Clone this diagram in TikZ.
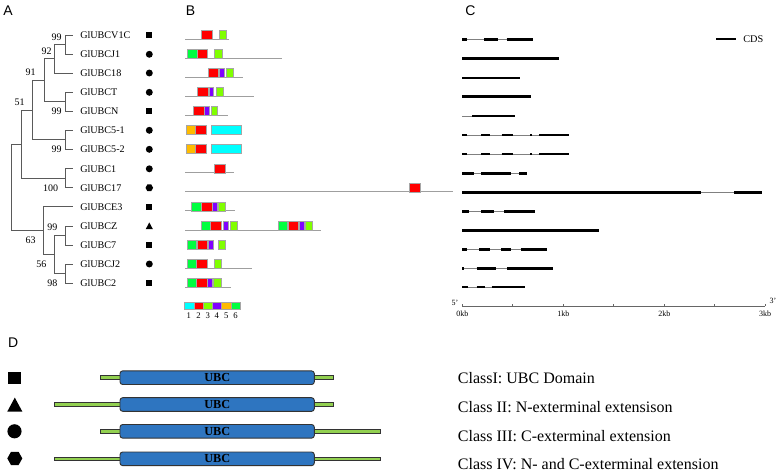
\documentclass[tikz,border=0pt]{standalone}
\usepackage{fontspec}
\setmainfont{Liberation Serif}
\setsansfont{Liberation Sans}
\definecolor{cRed}{RGB}{255,0,0}
\definecolor{cLime}{RGB}{128,255,0}
\definecolor{cGreen}{RGB}{0,255,64}
\definecolor{cPurple}{RGB}{128,0,255}
\definecolor{cOrange}{RGB}{255,187,0}
\definecolor{cCyan}{RGB}{0,255,255}
\definecolor{ubcblue}{RGB}{46,117,192}
\definecolor{extgreen}{RGB}{146,208,80}
\definecolor{treegray}{RGB}{90,90,90}
\newcommand\bx[4]{\filldraw[dom, fill=#1] (#2,#4-5) rectangle (#3,#4+4);}
\newcommand\ex[3]{\draw[exon] (#1,#3) -- (#2,#3);}
\newcommand\msq[2]{\fill (#1-3,#2-3) rectangle (#1+3,#2+3);}
\newcommand\mci[2]{\fill (#1,#2) circle[radius=2.6pt];}
\newcommand\mtr[2]{\fill (#1-3.6,#2+3.2) -- (#1+3.6,#2+3.2) -- (#1,#2-3.6) -- cycle;}
\newcommand\mhx[2]{\fill (#1-3.8,#2) -- (#1-1.9,#2-3.4) -- (#1+1.9,#2-3.4) -- (#1+3.8,#2) -- (#1+1.9,#2+3.4) -- (#1-1.9,#2+3.4) -- cycle;}
\begin{document}
\begin{tikzpicture}[x=0.75pt,y=-0.75pt,
  tree/.style={draw=treegray,line width=0.6pt},
  leaf/.style={font=\fontsize{7.6}{9}\selectfont, anchor=west, inner sep=0},
  boot/.style={font=\fontsize{7.5}{9}\selectfont, inner sep=0},
  dom/.style={draw=gray!70, line width=0.3pt},
  protline/.style={draw=gray!75, line width=0.7pt},
  intron/.style={draw=gray, line width=0.6pt},
  exon/.style={draw=black, line width=2.2pt},
  panel/.style={font=\fontsize{10.5}{12}\sffamily\selectfont, inner sep=0},
  ubc/.style={draw=black!80, fill=ubcblue, line width=0.7pt, rounded corners=2pt},
  ext/.style={draw=black!80, fill=extgreen, line width=0.5pt},
  cls/.style={font=\fontsize{12}{14}\selectfont, anchor=base west, inner sep=0},
  small/.style={font=\fontsize{6}{7}\selectfont, inner sep=0}]
\useasboundingbox (0,0) rectangle (777,472);

% panel letters
\node[panel] (pA) at (8,10.8) {A};
\node[panel] (pB) at (190.5,10.8) {B};
\node[panel] (pC) at (470.5,10.8) {C};
\node[panel] (pD) at (13.3,342.5) {D};

% ---------- A: tree ----------
\draw[tree] (72.7,35) -| (65.3,54.3) -- (72.7,54.3);
\draw[tree] (65.3,44.65) -| (54.3,73) -- (72.7,73);
\draw[tree] (72.7,92.3) -| (65.3,111.2) -- (72.7,111.2);
\draw[tree] (54.3,58.8) -| (44,101.75) -- (65.3,101.75);
\draw[tree] (72.7,130.3) -| (65.3,149.3) -- (72.7,149.3);
\draw[tree] (44,80.3) -| (32.3,139.8) -- (65.3,139.8);
\draw[tree] (72.7,168.8) -| (65.3,187.8) -- (72.7,187.8);
\draw[tree] (32.3,110.05) -| (21.3,178.3) -- (65.3,178.3);
\draw[tree] (72.7,226) -| (65.3,245) -- (72.7,245);
\draw[tree] (72.7,264) -| (65.3,283) -- (72.7,283);
\draw[tree] (65.3,235.5) -| (54.3,273.5) -- (65.3,273.5);
\draw[tree] (72.7,206.8) -| (43.3,254.5) -- (54.3,254.5);
\draw[tree] (21.3,144.2) -| (11,230.65) -- (43.3,230.65);

\node[boot] (b1) at (56.7,37) {99};
\node[boot] (b2) at (46.7,51.7) {92};
\node[boot] (b3) at (30.7,72.7) {91};
\node[boot] (b4) at (56.7,111.2) {99};
\node[boot] (b5) at (19.5,102.7) {51};
\node[boot] (b6) at (56.7,149.3) {99};
\node[boot] (b7) at (50.7,187.8) {100};
\node[boot] (b8) at (52.3,227.7) {99};
\node[boot] (b9) at (30.5,240) {63};
\node[boot] (b10) at (41.3,264.3) {56};
\node[boot] (b11) at (52.3,283) {98};

\node[leaf] (l0) at (80,35) {GlUBCV1C};
\node[leaf] (l1) at (80,54.3) {GlUBCJ1};
\node[leaf] (l2) at (80,73) {GlUBC18};
\node[leaf] (l3) at (80,92.3) {GlUBCT};
\node[leaf] (l4) at (80,111.2) {GlUBCN};
\node[leaf] (l5) at (80,130.3) {GlUBC5-1};
\node[leaf] (l6) at (80,149.3) {GlUBC5-2};
\node[leaf] (l7) at (80,168.8) {GlUBC1};
\node[leaf] (l8) at (80,187.8) {GlUBC17};
\node[leaf] (l9) at (80,206.8) {GlUBCE3};
\node[leaf] (l10) at (80,226) {GlUBCZ};
\node[leaf] (l11) at (80,245) {GlUBC7};
\node[leaf] (l12) at (80,264) {GlUBCJ2};
\node[leaf] (l13) at (80,283) {GlUBC2};

\msq{149.3}{35} \mci{149.3}{54.3} \mci{149.3}{73} \mci{149.3}{92.3}
\msq{149.3}{111.2} \mci{149.3}{130.3} \mci{149.3}{149.3} \mci{149.3}{168.8}
\mhx{149.3}{187.8} \msq{149.3}{206.8} \mtr{149.3}{226} \msq{149.3}{245}
\mci{149.3}{264} \msq{149.3}{283}

% ---------- B: domains ----------
\draw[protline] (185,39) -- (229,39);
\bx{cRed}{201}{211.7}{35} \bx{cLime}{219.3}{226}{35}
\draw[protline] (185,58.3) -- (281.7,58.3);
\bx{cGreen}{187.3}{196.7}{54.3} \bx{cRed}{196.7}{207.3}{54.3} \bx{cLime}{214.3}{221.7}{54.3}
\draw[protline] (185,77) -- (242.7,77);
\bx{cRed}{207.7}{218.3}{73} \bx{cPurple}{219.3}{224.3}{73} \bx{cLime}{226}{232.7}{73}
\draw[protline] (185,96.3) -- (253.7,96.3);
\bx{cRed}{197}{207.7}{92.3} \bx{cPurple}{208.7}{213.3}{92.3} \bx{cLime}{216}{222.7}{92.3}
\draw[protline] (185,115.2) -- (228.3,115.2);
\bx{cRed}{193}{204}{111.2} \bx{cPurple}{204.3}{209.3}{111.2} \bx{cLime}{210.7}{217.3}{111.2}
\bx{cOrange}{186}{195}{130.3} \bx{cRed}{195}{205.7}{130.3} \bx{cCyan}{211}{240.7}{130.3}
\bx{cOrange}{186}{195}{149.3} \bx{cRed}{195}{205.7}{149.3} \bx{cCyan}{211}{240.7}{149.3}
\draw[protline] (185,172.8) -- (234,172.8);
\bx{cRed}{214.3}{225}{168.8}
\draw[protline] (185,191.8) -- (453.3,191.8);
\bx{cRed}{409.3}{420}{187.8}
\draw[protline] (185,210.8) -- (235,210.8);
\bx{cGreen}{191}{201}{206.8} \bx{cRed}{201}{211.7}{206.8} \bx{cPurple}{211.7}{217}{206.8} \bx{cLime}{217.7}{225}{206.8}
\draw[protline] (185,230) -- (321,230);
\bx{cGreen}{201}{210}{226} \bx{cRed}{210}{221}{226} \bx{cPurple}{222.7}{227.7}{226} \bx{cLime}{230.3}{237.3}{226}
\bx{cGreen}{277.7}{287}{226} \bx{cRed}{287.7}{298.3}{226} \bx{cPurple}{298.7}{303.7}{226} \bx{cLime}{305}{311.7}{226}
\bx{cGreen}{187.3}{196}{245} \bx{cRed}{196.7}{207.3}{245} \bx{cPurple}{208.3}{213}{245} \bx{cLime}{218.3}{225}{245}
\draw[protline] (185,268) -- (251.7,268);
\bx{cGreen}{187.3}{196}{264} \bx{cRed}{196}{206.7}{264} \bx{cLime}{214.3}{220.7}{264}
\draw[protline] (185,287) -- (231,287);
\bx{cGreen}{186.7}{195.7}{283} \bx{cRed}{195.7}{207.3}{283} \bx{cPurple}{207.3}{211.7}{283} \bx{cLime}{212.7}{220.7}{283}
% legend
\filldraw[dom, fill=cCyan] (184.3,301.7) rectangle (193.8,309.3);
\filldraw[dom, fill=cRed] (193.8,301.7) rectangle (203.3,309.3);
\filldraw[dom, fill=cLime] (203.3,301.7) rectangle (212.3,309.3);
\filldraw[dom, fill=cPurple] (212.3,301.7) rectangle (221.5,309.3);
\filldraw[dom, fill=cOrange] (221.5,301.7) rectangle (231,309.3);
\filldraw[dom, fill=cGreen] (231,301.7) rectangle (240,309.3);
\foreach \n/\xx in {1/188.8,2/198.5,3/207.8,4/216.9,5/226.2,6/235.5}
  \node[small, font=\fontsize{6.5}{7}\selectfont] (n\n) at (\xx,315.7) {\n};

% ---------- C: gene structures ----------
\draw[exon] (716,39) -- (735.7,39);
\node[font=\fontsize{7.7}{9}\selectfont, anchor=west, inner sep=0] (cds) at (743,39) {CDS};

\draw[intron] (462.3,39.7) -- (533.3,39.7);
\ex{462.3}{466.7}{39.7} \ex{484.3}{497.7}{39.7} \ex{506.7}{533.3}{39.7}
\ex{462.3}{559}{58.7}
\ex{462.3}{520}{78}
\ex{462.3}{531.3}{96.7}
\draw[intron] (462.3,116) -- (472.3,116); \ex{472.3}{515.3}{116}
\foreach \yy in {135,154}{
  \draw[intron] (462.3,\yy) -- (569.3,\yy);
  \ex{462.3}{466.7}{\yy} \ex{481}{490}{\yy} \ex{501.7}{512.7}{\yy} \ex{530.3}{531.8}{\yy} \ex{539}{569.3}{\yy}}
\draw[intron] (462.3,173.3) -- (527,173.3);
\ex{462.3}{474.3}{173.3} \ex{481}{511}{173.3} \ex{519.3}{527}{173.3}
\draw[intron] (462.3,192.3) -- (762.3,192.3);
\ex{462.3}{700.7}{192.3} \ex{734.3}{762.3}{192.3}
\draw[intron] (462.3,211.3) -- (534.7,211.3);
\ex{462.3}{469}{211.3} \ex{481}{494}{211.3} \ex{504}{534.7}{211.3}
\ex{462.3}{599}{230.3}
\draw[intron] (462.3,249.3) -- (546.7,249.3);
\ex{462.3}{467.3}{249.3} \ex{479.3}{490}{249.3} \ex{501}{511}{249.3} \ex{520.7}{546.7}{249.3}
\draw[intron] (462.3,268.3) -- (553,268.3);
\ex{462.3}{464.3}{268.3} \ex{476.7}{495.7}{268.3} \ex{507.3}{553}{268.3}
\draw[intron] (462.3,287) -- (525.3,287);
\ex{462.3}{467.7}{287} \ex{476.7}{485}{287} \ex{491.7}{525.3}{287}

% axis
\draw[draw=gray!80!black, line width=0.5pt] (462.3,306) -- (765,306);
\foreach \xx in {462.3,512.8,563.3,613.8,664.3,714.8,765}
  \draw[draw=gray!80!black, line width=0.5pt] (\xx,306) -- (\xx,304);
\foreach \k/\xx in {0/462.3,1/563.3,2/664.3,3/765}
  \node[small] (t\k) at (\xx,313.5) {\k kb};
\node[small] (five) at (455,303) {5'};
\node[small] (three) at (773,300.5) {3'};

% ---------- D: classes ----------
\foreach \yy/\lx/\rx/\nm in {377.7/100.7/333.3/a, 404.5/54.3/333.3/b, 431.3/100.7/380/c, 458.8/54.3/380/d}{
  \filldraw[ext] (\lx,\yy-1.9) rectangle (121,\yy+1.9);
  \filldraw[ext] (313.3,\yy-1.9) rectangle (\rx,\yy+1.9);
  \draw[ubc] (120,\yy-6.8) rectangle (314.3,\yy+6.8);
  \node[font=\fontsize{9.2}{10}\selectfont\bfseries, inner sep=0] (u\nm) at (217.2,\yy) {UBC};
}
\fill (7.5,371.5) rectangle (20.8,384);
\fill (7.3,411.5) -- (22.3,411.5) -- (14.8,397.6) -- cycle;
\fill (14.5,431.3) circle[radius=5.3pt];
\fill (7.3,458.4) -- (11,451.8) -- (18.6,451.8) -- (22.3,458.4) -- (18.6,465) -- (11,465) -- cycle;

\node[cls] (k1) at (457.7,383.8) {ClassI: UBC Domain};
\node[cls] (k2) at (457.7,412.5) {Class II: N-exterminal extensison};
\node[cls] (k3) at (457.7,441.3) {Class III: C-exterminal extension};
\node[cls] (k4) at (457.7,469.6) {Class IV: N- and C-exterminal extension};
\end{tikzpicture}
\end{document}
